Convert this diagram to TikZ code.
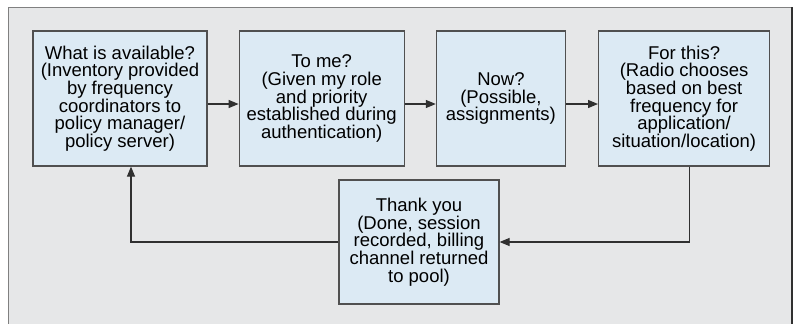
\documentclass[tikz,border=0pt]{standalone}
\usepackage{fontspec}
\setmainfont{Liberation Sans}
\usetikzlibrary{arrows.meta,positioning}

\definecolor{panelgray}{HTML}{E6E7E8}
\definecolor{boxblue}{HTML}{DCEAF4}
\definecolor{boxline}{HTML}{505050}
\definecolor{arrline}{HTML}{303030}

\begin{document}
\begin{tikzpicture}[x=1pt,y=-1pt,>={Triangle[length=10pt,width=8pt]},
  box/.style={draw=boxline,line width=1.2pt,fill=boxblue,align=center,inner sep=0pt,
    minimum height=135pt,font=\fontsize{18.5}{17.7}\selectfont},
  flow/.style={->,draw=arrline,line width=1.2pt}]

\useasboundingbox (0,0) rectangle (796,324);
\fill[panelgray] (8,7) rectangle (792,330);
\draw[line width=1pt,draw=gray] (8,330) -- (8,7) -- (792,7);
\draw[line width=1.6pt,draw=arrline] (792,7) -- (792,330);

\node[box,minimum width=174pt] (avail) at (120,98.5)
  {What is available?\\(Inventory provided\\by frequency\\coordinators to\\policy manager/\\policy server)};
 \node[box,minimum width=165pt] (tome) [right=31pt of avail]
  {To me?\\(Given my role\\and priority\\established during\\authentication)};
	\node[box,minimum width=129pt] (now) [right=31pt of tome]
  {Now?\\(Possible,\\assignments)};
	\node[box,minimum width=171pt] (forthis) [right=32pt of now]
  {For this?\\(Radio chooses\\based on best\\frequency for\\application/\\situation/location)};
		\node[box,minimum width=160pt,minimum height=124pt] (thanks) at (419,242)
  {Thank you\\(Done, session\\recorded, billing\\channel returned\\to pool)};

	\draw[flow] ([yshift=-5.5pt]avail.east) -- ([yshift=-5.5pt]tome.west);
	\draw[flow] ([yshift=-5.5pt]tome.east) -- ([yshift=-5.5pt]now.west);
	\draw[flow] ([yshift=-5.5pt]now.east) -- ([yshift=-5.5pt]forthis.west);
	\draw[flow] ([xshift=5.5pt]forthis.south) |- (thanks.east);
	\draw[flow] (thanks.west) -| ([xshift=11pt]avail.south);

\end{tikzpicture}
\end{document}
